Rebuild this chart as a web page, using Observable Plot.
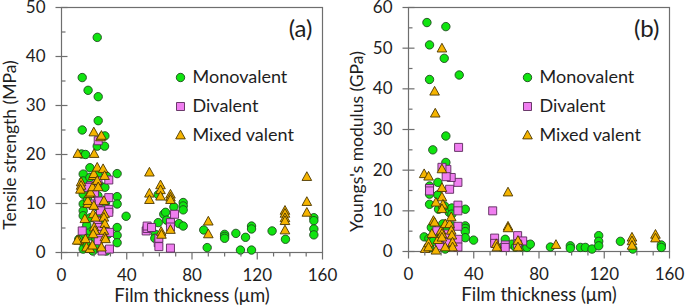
<!DOCTYPE html>
<html>
<head>
<meta charset="utf-8">
<script src="https://cdn.jsdelivr.net/npm/d3@7"></script>
<script src="https://cdn.jsdelivr.net/npm/@observablehq/plot@0.6"></script>
<style>
  html, body { margin: 0; padding: 0; background: #fff; }
  #wrap { display: flex; width: 685px; height: 307px; overflow: hidden; }
  svg { overflow: visible; }
</style>
</head>
<body>
<div id="wrap"></div>
<script>
// ---------- data ----------
const seriesNames = ["Monovalent", "Divalent", "Mixed valent"];
const xTicks = [0, 40, 80, 120, 160];
const xMinorTicks = [10, 20, 30, 50, 60, 70, 90, 100, 110, 130, 140, 150];
const tensileTicks = [0, 10, 20, 30, 40, 50];
const tensileMinor = [5, 15, 25, 35, 45];
const modulusTicks = [0, 10, 20, 30, 40, 50, 60];
const modulusMinor = [5, 15, 25, 35, 45, 55];

// Tensile strength (MPa) vs film thickness (µm)
const tensileMono = [[12.7,35.7],[16.3,33.1],[21.9,43.9],[22.5,31.8],[22.5,26.9],[12.7,25.0],[21.9,21.7],[26.4,21.7],[26.6,23.8],[12.3,20.1],[14.7,20.0],[17.4,17.3],[34.1,16.1],[34.1,11.4],[34.1,9.9],[34.1,5.1],[34.1,3.5],[34.1,2.0],[39.6,7.4],
  [13.3,16.0],[13.3,14.6],[13.3,13.3],[13.3,11.9],[13.3,9.9],[13.3,8.5],[13.3,7.5],[13.3,4.4],[13.3,3.4],[13.3,2.0],[13.3,0.7],[10.6,2.7],[15.7,1.4],[17.8,3.4],[17.8,7.1],[17.4,4.4],[20.8,1.0],[22.3,16.0],[22.3,11.6],[22.3,9.2],[23.9,13.6],[23.9,7.5],[26.6,13.3],[27.6,15.6],[27.0,10.2],[27.6,0.3],[28.4,3.7],[17.4,15.3],[16.0,10.8],[18.5,12.5],[15.5,5.6],[19.2,0.3],[21.0,2.6],[24.6,5.9],
  [59.3,11.8],[59.3,6.1],[62.7,7.8],[63.8,8.2],[64.5,6.6],[57.6,3.7],[57.2,2.9],[68.9,9.3],[66.8,5.9],[72.0,5.9],[74.6,5.4],[74.6,10.2],[74.6,9.5],[74.6,8.7],[87.2,4.6],[89.3,1.0],[100,3.7],[100,3.3],[100,2.9],[106.9,3.9],[112.8,3.1],[116.5,5.4],[116.5,4.8],[109.7,0.5],[116.5,0.5],[129.1,4.4],[137.3,2.7],[154.7,7.1],[154.7,6.5],[154.7,4.8],[154.7,3.6]];
const tensileDi = [[22.5,22.8],[17.8,13.6],[16.3,13.3],[22.3,14.6],[29.0,14.8],[22.5,10.2],[22.9,10.5],[23.9,8.5],[29.0,8.8],[29.0,8.2],[18.2,9.9],[20.2,12.2],[21.9,6.5],[22.9,5.1],[12.7,4.4],[24.5,4.4],[29.4,4.1],[23.3,3.7],[22.5,2.4],[24.9,0.3],[29.4,0.7],[29.0,11.2],
  [51.9,4.4],[52.5,4.9],[52.5,5.4],[55.2,5.1],[59.3,2.0],[59.7,1.2],[59.7,2.9],[66.8,6.1],[66.8,5.2],[66.8,0.9],[69.3,7.8]];
const tensileMixed = [[10.0,20.1],[12.0,14.3],[12.0,13.6],[11.6,12.8],[10.6,2.4],[9.6,2.4],[14.7,2.7],[15.3,1.0],[14.3,6.8],[16.1,9.9],[16.1,10.5],[17.0,11.9],[17.8,12.2],[19.0,13.3],[19.4,15.6],[19.8,16.0],[20.0,20.1],[19.8,24.5],[21.9,17.3],[21.9,14.6],[22.5,13.3],[19.4,7.8],[19.8,9.5],[20.8,7.1],[20.0,5.1],[20.4,4.4],[19.4,3.7],[17.4,0.7],[19.0,1.4],[23.9,23.5],[24.5,23.8],[25.5,17.0],[26.4,15.6],[26.0,10.5],[26.4,7.8],[26.0,7.1],[26.6,5.8],[26.0,4.4],[26.6,3.1],[27.0,2.7],[24.5,1.0],
  [53.9,16.3],[53.9,12.0],[53.9,10.7],[60.7,13.7],[60.7,12.7],[60.7,11.4],[61.1,4.2],[61.3,3.6],[66.8,11.8],[66.8,11.2],[66.8,10.7],[66.8,4.6],[90.0,6.3],[90.0,3.7],[137,8.5],[137,7.9],[137,7.0],[137,6.4],[137,4.5],[150.4,15.4],[150.4,10.3],[150.4,8.1]];

// Young's modulus (GPa) vs film thickness (µm)
const modulusMono = [[11.3,56.3],[22.9,55.3],[12.9,50.8],[21.9,47.5],[12.9,42.3],[31.1,43.4],[22.9,28.4],[14.9,25.0],[22.9,21.9],[18.0,17.0],[12.9,16.1],[12.9,14.1],[12.9,11.6],[18.0,13.9],[18.4,10.4],[22.1,11.2],[25.0,9.6],[26.6,10.7],[26.6,9.2],[34.8,10.4],[34.8,6.3],[34.8,5.7],[34.8,4.9],[34.8,3.4],[39.9,2.8],[9.6,3.6],
  [12.5,3.2],[13.0,0.9],[15.0,2.5],[17.0,4.8],[19.5,1.8],[21.0,6.8],[22.5,0.6],[24.0,5.5],[25.5,2.4],[27.0,6.3],[28.0,1.5],[14.0,5.9],
  [59.3,3.0],[57.3,1.0],[63.4,1.8],[65.5,1.1],[69.6,1.1],[72.6,1.6],[72.6,1.0],[74.7,1.8],[87.0,1.1],[99.2,1.4],[99.2,0.8],[105.4,1.0],[108.4,1.0],[112.5,0.6],[116.6,3.9],[116.6,2.5],[116.6,1.4],[129.9,2.5],[137.5,0.6],[155.0,1.6],[155.0,1.0]];
const modulusDi = [[30.7,25.6],[30.3,17.0],[26.2,18.2],[23.5,20.2],[23.1,18.4],[20.5,20.7],[25.2,15.3],[12.9,15.5],[12.9,14.9],[30.3,11.4],[30.3,10.0],[30.3,6.2],[30.3,3.0],[30.3,1.1],[17.4,5.1],[22.5,4.3],[23.5,2.2],[19.0,1.4],
  [51.6,10.0],[52.8,3.3],[52.8,2.0],[59.3,1.6],[59.3,1.0],[66.9,3.9],[70.0,2.6],[66.9,1.8]];
const modulusMixed = [[9.6,19.0],[12.3,18.4],[16.0,39.3],[16.4,33.9],[20.5,49.9],[20.5,20.2],[20.5,15.6],[20.5,13.3],[21.1,11.5],[20.5,10.4],[16.8,12.0],[15.3,7.5],[16.0,7.1],[10.2,0.6],[12.3,2.0],[12.3,1.0],[14.3,4.3],[16.8,0.2],[18.0,2.8],[20.0,5.1],[20.5,4.3],[20.5,3.4],[22.5,6.7],[25.2,6.7],[26.2,8.4],[26.2,5.1],[26.6,3.9],[27.0,2.2],[27.0,1.0],[22.5,1.0],
  [53.8,1.8],[54.2,1.0],[61.0,14.5],[61.0,6.1],[61.0,5.7],[67.1,2.6],[67.1,1.0],[90.4,1.6],[137,3.4],[137,2.5],[137,1.4],[151.4,4.1],[151.4,3.2]];

// ---------- styling ----------
const axisColor = "#6e6e6e";
const symCircle = {draw(ctx) { ctx.moveTo(4.2, 0); ctx.arc(0, 0, 4.2, 0, 2 * Math.PI); }};
const symSquare = {draw(ctx) { ctx.rect(-4, -4, 8, 8); }};
const symTriangle = {draw(ctx) { ctx.moveTo(0, -5.3); ctx.lineTo(4.8, 3.4); ctx.lineTo(-4.8, 3.4); ctx.closePath(); }};
const seriesStyle = [
  {symbol: symCircle, fill: "#10e410", stroke: "#1f4a1f"},
  {symbol: symSquare, fill: "#f07ef0", stroke: "#5a2a5a"},
  {symbol: symTriangle, fill: "#f5b400", stroke: "#4a3600"}
];
const crossTick = {draw(ctx) { ctx.moveTo(-6, 0); ctx.lineTo(6, 0); }};
const inTick = {draw(ctx) { ctx.moveTo(0, 0); ctx.lineTo(4, 0); }};
const downMajor = {draw(ctx) { ctx.moveTo(0, 0); ctx.lineTo(0, 7); }};
const downMinor = {draw(ctx) { ctx.moveTo(0, 0); ctx.lineTo(0, 4); }};
const font = "Lato, 'Open Sans', sans-serif";

function panel({width, marginLeft, marginRight, marginBottom, yMax, yTicks, yMinor, series, yLabel, yLabelDy, tag}) {
  const marks = [
    Plot.frame({stroke: axisColor, strokeWidth: 1.2}),
    ...series.map((data, i) => Plot.dot(data, {
      x: d => d[0], y: d => d[1], symbol: seriesStyle[i].symbol,
      fill: seriesStyle[i].fill, stroke: seriesStyle[i].stroke, strokeWidth: 0.9
    })),
    Plot.dot(yTicks, {y: d => d, frameAnchor: "left", symbol: crossTick, fill: "none", stroke: axisColor, strokeWidth: 1.2}),
    Plot.dot(yMinor, {y: d => d, frameAnchor: "left", symbol: inTick, fill: "none", stroke: axisColor, strokeWidth: 1.2}),
    Plot.dot(xTicks, {x: d => d, frameAnchor: "bottom", symbol: downMajor, fill: "none", stroke: axisColor, strokeWidth: 1.2}),
    Plot.dot(xMinorTicks, {x: d => d, frameAnchor: "bottom", symbol: downMinor, fill: "none", stroke: axisColor, strokeWidth: 1.2}),
    Plot.axisY(yTicks, {tickSize: 0, tickPadding: 16, label: null, fontSize: 17}),
    Plot.axisX(xTicks, {tickSize: 0, tickPadding: 16, label: null, fontSize: 17}),
    Plot.text(["Film thickness (\u03bcm)"], {text: d => d, frameAnchor: "bottom", lineAnchor: "middle", textAnchor: "middle", dy: 44, fontSize: 18.5}),
    Plot.text([yLabel], {text: d => d, frameAnchor: "left", textAnchor: "middle", lineAnchor: "middle", rotate: -90, dx: -51, dy: yLabelDy, fontSize: 17.5}),
    Plot.text([tag], {text: d => d, frameAnchor: "top-right", textAnchor: "end", lineAnchor: "middle", dx: -10, dy: 22, fontSize: 24}),
    ...seriesNames.map((name, i) => Plot.dot([name], {
      frameAnchor: "top-left", dx: 119, dy: 70 + i * 29,
      symbol: seriesStyle[i].symbol, fill: seriesStyle[i].fill, stroke: seriesStyle[i].stroke, strokeWidth: 0.9
    })),
    ...seriesNames.map((name, i) => Plot.text([name], {
      text: d => d, frameAnchor: "top-left", textAnchor: "start", lineAnchor: "middle", dx: 131, dy: 70 + i * 29, fontSize: 18
    }))
  ];
  return Plot.plot({
    width, height: 307,
    marginLeft, marginRight, marginTop: 7, marginBottom,
    style: {fontFamily: font, fontSize: "17px", color: "#1e1e1e", background: "#fff", overflow: "visible"},
    x: {domain: [0, 160]},
    y: {domain: [0, yMax]},
    marks
  });
}

const wrap = document.getElementById("wrap");
wrap.append(panel({
  width: 345, marginLeft: 61, marginRight: 23, marginBottom: 55,
  yMax: 50, yTicks: tensileTicks, yMinor: tensileMinor,
  series: [tensileMono, tensileDi, tensileMixed],
  yLabel: "Tensile strength (MPa)", yLabelDy: 15, tag: "(a)"
}));
wrap.append(panel({
  width: 340, marginLeft: 63, marginRight: 16, marginBottom: 56,
  yMax: 60, yTicks: modulusTicks, yMinor: modulusMinor,
  series: [modulusMono, modulusDi, modulusMixed],
  yLabel: "Youngs's modulus (GPa)", yLabelDy: 12, tag: "(b)"
}));
</script>
</body>
</html>
